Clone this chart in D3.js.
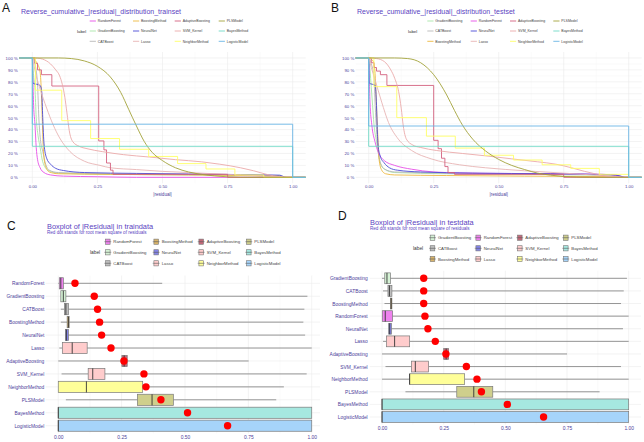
<!DOCTYPE html>
<html>
<head>
<meta charset="utf-8">
<script src="https://cdn.jsdelivr.net/npm/d3@7"></script>
<style>
body { margin: 0; background: #fff; }
svg { display: block; }
text { font-family: 'Liberation Sans', Arial, sans-serif; }
</style>
</head>
<body>
<div id="chart"></div>
<script>
// ---- Data

// Legend / factor orders
var trainModels = ['RandomForest', 'GradientBoosting', 'CATBoost', 'BoostingMethod', 'NeuralNet', 'Lasso',
  'AdaptiveBoosting', 'SVM_Kernel', 'NeighborMethod', 'PLSModel', 'BayesMethod', 'LogisticModel']
var testModels = ['GradientBoosting', 'CATBoost', 'BoostingMethod', 'RandomForest', 'NeuralNet', 'Lasso',
  'AdaptiveBoosting', 'SVM_Kernel', 'NeighborMethod', 'PLSModel', 'BayesMethod', 'LogisticModel']

// Reverse cumulative |residual| curves, trainset: [|residual|, % above]
var A_RandomForest = [[0,100],[0.002,85],[0.005,60],[0.01,45],[0.015,25],[0.02,15],[0.03,8],[0.045,4],[0.07,2],[0.12,1],[0.25,0.5],[0.4,0]]
var A_GradientBoosting = [[0,100],[0.005,85],[0.01,75],[0.015,50],[0.022,35],[0.03,25],[0.04,13],[0.06,6],[0.1,3.5],[0.3,2.5],[0.6,2],[0.95,1],[0.98,0]]
var A_CATBoost = [[0,100],[0.01,95],[0.02,78],[0.025,50],[0.032,30],[0.04,22],[0.05,12],[0.065,6],[0.1,4],[0.3,3],[0.6,2.5],[0.95,1.5],[0.97,0]]
var A_BoostingMethod = [[0,100],[0.01,98],[0.02,95],[0.03,88],[0.035,70],[0.038,50],[0.042,25],[0.05,10],[0.065,4.5],[0.1,3],[0.3,2.5],[0.6,2],[0.95,1],[0.967,0]]
var A_NeuralNet = [[0,100],[0.002,79],[0.03,77],[0.036,72],[0.04,50],[0.045,28],[0.055,16],[0.07,11],[0.09,7.5],[0.12,5.7],[0.2,4],[0.4,3.3],[0.6,2.8],[0.8,2.3],[0.95,1.8],[0.975,0]]
var A_Lasso = [[0,100],[0.005,95],[0.015,85],[0.03,74],[0.055,58],[0.08,44],[0.105,33],[0.145,21.5],[0.2,13.5],[0.26,10],[0.3,8],[0.4,6.5],[0.5,5],[0.6,4],[0.75,2.5],[0.9,1],[1,0]]
var A_AdaptiveBoosting = [[0,100],[0.01,95.5],[0.02,90],[0.035,86],[0.075,76.5],[0.255,30.5],[0.275,23],[0.285,12],[0.3,6],[0.31,2.5],[0.75,0]]
var A_SVM_Kernel = [[0,100],[0.02,99.8],[0.04,99],[0.07,95],[0.09,90],[0.105,85],[0.115,78],[0.125,67],[0.133,54],[0.142,39],[0.155,30],[0.18,26],[0.21,24],[0.27,21.5],[0.35,19],[0.45,17],[0.55,14.8],[0.65,13],[0.72,11],[0.8,8],[0.85,5.5],[0.9,2.5],[0.95,0.5],[0.98,0]]
var A_NeighborMethod = [[0,100],[0.012,73],[0.113,47.5],[0.224,32.5],[0.335,23.5],[0.447,17.5],[0.558,11.5],[0.667,7],[0.778,2],[0.889,0]]
var A_PLSModel = [[0,100],[0.1,100],[0.15,99.5],[0.2,97.5],[0.25,93],[0.3,84],[0.34,71],[0.37,57],[0.4,43],[0.43,30],[0.46,21],[0.5,14],[0.55,8],[0.6,4.5],[0.65,2.5],[0.7,1.2],[0.75,0.4],[0.8,0.1],[0.85,0]]
var A_BayesMethod = [[0,100],[0,26],[1,0]]
var A_LogisticModel = [[0,100],[0,44.5],[1,0]]

// Reverse cumulative |residual| curves, testset
var B_GradientBoosting = [[0,100],[0.005,90],[0.01,75],[0.015,60],[0.02,45],[0.03,30],[0.036,22],[0.045,12],[0.06,7],[0.1,4],[0.3,3],[0.6,2.5],[0.95,1.5],[0.98,0]]
var B_CATBoost = [[0,100],[0.01,95],[0.02,85],[0.025,60],[0.03,40],[0.035,25],[0.045,12],[0.06,7],[0.1,4.5],[0.3,3.5],[0.6,3],[0.95,2],[0.97,0]]
var B_BoostingMethod = [[0,100],[0.01,99],[0.02,96],[0.025,85],[0.03,60],[0.035,35],[0.04,15],[0.05,6],[0.065,3],[0.1,2],[0.3,1.5],[0.6,1],[0.95,0.5],[0.97,0]]
var B_RandomForest = [[0,100],[0.002,85],[0.005,63],[0.012,44],[0.024,30],[0.037,21],[0.06,14],[0.1,10],[0.165,6.8],[0.25,4.5],[0.35,3.7],[0.5,3.3],[0.7,3],[0.9,2.5],[0.96,1.5],[0.98,0]]
var B_NeuralNet = [[0,100],[0.002,79],[0.025,77],[0.03,60],[0.033,40],[0.036,27],[0.044,18],[0.06,12],[0.08,8],[0.11,6],[0.2,4.5],[0.4,3.5],[0.7,3],[0.93,2.3],[0.97,1],[0.985,0]]
var B_Lasso = [[0,100],[0.005,96],[0.01,92],[0.024,82],[0.05,63],[0.076,46],[0.114,32],[0.165,22.5],[0.24,15.5],[0.35,10.5],[0.45,8],[0.6,5.5],[0.75,3.5],[0.9,1.5],[1,0]]
var B_AdaptiveBoosting = [[0,100],[0.01,96],[0.02,92],[0.03,89],[0.045,86],[0.07,77],[0.25,31],[0.267,24],[0.28,16],[0.293,9],[0.305,4],[0.33,2.5],[0.75,0]]
var B_SVM_Kernel = [[0,100],[0.03,99.5],[0.06,97],[0.085,90],[0.1,83],[0.115,72],[0.125,58],[0.133,43],[0.145,32],[0.17,27],[0.2,25],[0.26,22.5],[0.36,20],[0.45,18],[0.55,15.5],[0.65,13],[0.72,11],[0.78,8],[0.83,5],[0.88,2.5],[0.93,0.5],[0.96,0]]
var B_NeighborMethod = [[0,100],[0.02,76],[0.108,50],[0.222,34.5],[0.333,24.5],[0.445,18.5],[0.557,14.5],[0.667,10.5],[0.777,7.5],[0.887,2.5],[1,0]]
var B_PLSModel = [[0,100],[0.1,100],[0.15,99.5],[0.2,96],[0.25,86],[0.3,69],[0.33,56],[0.36,44],[0.4,32],[0.45,22],[0.5,15],[0.55,10],[0.6,6.5],[0.65,3.5],[0.7,1.8],[0.75,0.7],[0.8,0.2],[0.85,0]]
var B_BayesMethod = [[0,100],[0,26],[1,0]]
var B_LogisticModel = [[0,100],[0,43],[1,0]]

// Boxplot statistics, traindata (same order as trainModels)
var trainLo = [0, 0.01, 0.01, 0.01, 0.028, 0.004, 0, 0.013, 0, 0.03, 0, 0]
var trainQ1 = [0.004, 0.01, 0.024, 0.035, 0.028, 0.016, 0.251, 0.118, 0, 0.312, 0, 0]
var trainMed = [0.01, 0.02, 0.03, 0.04, 0.032, 0.055, 0.26, 0.136, 0.111, 0.37, 0, 0]
var trainQ3 = [0.02, 0.03, 0.04, 0.043, 0.04, 0.114, 0.272, 0.184, 0.333, 0.454, 1, 1]
var trainHi = [0.41, 0.983, 0.971, 0.967, 0.974, 1, 0.751, 0.98, 0.89, 0.86, 1, 1]
var trainRmse = [0.066, 0.142, 0.155, 0.163, 0.171, 0.208, 0.259, 0.338, 0.346, 0.405, 0.51, 0.668]

// Boxplot statistics, testdata (same order as testModels)
var testLo = [0, 0.004, 0.01, 0, 0.027, 0.004, 0, 0.014, 0, 0.095, 0, 0]
var testQ1 = [0.011, 0.024, 0.034, 0.001, 0.027, 0.018, 0.25, 0.119, 0.112, 0.303, 0, 0]
var testMed = [0.02, 0.03, 0.037, 0.013, 0.031, 0.051, 0.26, 0.135, 0.112, 0.372, 0, 0]
var testQ3 = [0.034, 0.04, 0.04, 0.043, 0.038, 0.112, 0.27, 0.189, 0.335, 0.449, 1, 1]
var testHi = [0.993, 0.98, 0.969, 1, 0.977, 1, 0.75, 0.969, 1, 0.882, 1, 1]
var testRmse = [0.169, 0.169, 0.169, 0.174, 0.186, 0.216, 0.259, 0.342, 0.385, 0.403, 0.508, 0.655]

var pctTicks = [0, 10, 20, 30, 40, 50, 60, 70, 80, 90, 100]
var resTicks = [0, 0.25, 0.5, 0.75, 1]

// ---- Styles

var lineColor = {
  RandomForest: '#E64FE6', GradientBoosting: '#A8E6A8', CATBoost: '#B8B8B8', BoostingMethod: '#EDB940',
  NeuralNet: '#4B4BD6', Lasso: '#E8B4B4', AdaptiveBoosting: '#D4617F', SVM_Kernel: '#EBA9A9',
  NeighborMethod: '#FFFF66', PLSModel: '#A3A33A', BayesMethod: '#6FD9C6', LogisticModel: '#6BB5E5'
}
var boxFill = {
  RandomForest: '#EE82EE', GradientBoosting: '#D5F2D5', CATBoost: '#BEBEBE', BoostingMethod: '#D9B46A',
  NeuralNet: '#8484E6', Lasso: '#FFCCCC', AdaptiveBoosting: '#C46A7A', SVM_Kernel: '#FFCCCC',
  NeighborMethod: '#FFFF99', PLSModel: '#CFCF8C', BayesMethod: '#A6E8E0', LogisticModel: '#A6D4FA'
}
var stepModels = ['AdaptiveBoosting', 'NeighborMethod', 'BayesMethod', 'LogisticModel']
var titleColor = '#5B3FBF'
var axisColor = '#4B3D9A'
var gridMajor = '#EBEBEB'
var gridMinor = '#F5F5F5'

var svg = d3.select('#chart').append('svg')
  .attr('width', 644)
  .attr('height', 442)

var fmtPct = function(d){ return d + ' %' }
var fmtRes = d3.format('.2f')

// ---- Panels

ecdfPanel({
  tag: 'A', tagX: 2, tagY: 12,
  title: 'Reverse_cumulative_|residual|_distribution_trainset', titleX: 21, titleY: 14,
  left: 19.3, right: 305.7, top: 52, bottom: 183.3,
  legendOrder: trainModels, labelX: 77, legendX: [97.7, 141, 182.7, 226.7], legendY: [21, 31, 41.3],
  curves: {
    RandomForest: A_RandomForest, GradientBoosting: A_GradientBoosting, CATBoost: A_CATBoost,
    BoostingMethod: A_BoostingMethod, NeuralNet: A_NeuralNet, Lasso: A_Lasso,
    AdaptiveBoosting: A_AdaptiveBoosting, SVM_Kernel: A_SVM_Kernel, NeighborMethod: A_NeighborMethod,
    PLSModel: A_PLSModel, BayesMethod: A_BayesMethod, LogisticModel: A_LogisticModel
  }
})

ecdfPanel({
  tag: 'B', tagX: 331, tagY: 12,
  title: 'Reverse_cumulative_|residual|_distribution_testset', titleX: 357, titleY: 14,
  left: 355.7, right: 641.7, top: 52, bottom: 183.3,
  legendOrder: testModels, labelX: 408, legendX: [435.3, 478.7, 518, 561.3], legendY: [21, 31, 41.3],
  curves: {
    RandomForest: B_RandomForest, GradientBoosting: B_GradientBoosting, CATBoost: B_CATBoost,
    BoostingMethod: B_BoostingMethod, NeuralNet: B_NeuralNet, Lasso: B_Lasso,
    AdaptiveBoosting: B_AdaptiveBoosting, SVM_Kernel: B_SVM_Kernel, NeighborMethod: B_NeighborMethod,
    PLSModel: B_PLSModel, BayesMethod: B_BayesMethod, LogisticModel: B_LogisticModel
  }
})

boxPanel({
  tag: 'C', tagX: 7, tagY: 230,
  title: 'Boxplot of |Residual| in traindata', titleX: 47, titleY: 229,
  left: 45.6, right: 324.4, clipRight: 320, firstY: 283.3, lastY: 425.7, tickY: 438.3, labelRight: 44.3,
  models: trainModels, lo: trainLo, q1: trainQ1, med: trainMed, q3: trainQ3, hi: trainHi, rmse: trainRmse,
  labelX: 90, legendX: [113.3, 161.7, 206.7, 254.3], legendY: [241.7, 252.3, 263.3]
})

boxPanel({
  tag: 'D', tagX: 338, tagY: 220,
  title: 'Boxplot of |Residual| in testdata', titleX: 370, titleY: 225,
  left: 369.7, right: 641, clipRight: 641, firstY: 278.3, lastY: 417, tickY: 429.5, labelRight: 367.7,
  models: testModels, lo: testLo, q1: testQ1, med: testMed, q3: testQ3, hi: testHi, rmse: testRmse,
  labelX: 413, legendX: [438, 483.7, 525.3, 571.3], legendY: [237.7, 248.3, 259]
})

// ---
// Functions

function ecdfPanel(s) {
  var x = d3.scaleLinear().domain([-0.05, 1.05]).range([s.left, s.right])
  var y = d3.scaleLinear().domain([-5, 105]).range([s.bottom, s.top])
  var g = svg.append('g')

  // minor + major grid
  d3.range(5, 100, 10).forEach(function(v){
    g.append('line').attr('x1', s.left).attr('x2', s.right).attr('y1', y(v)).attr('y2', y(v))
      .attr('stroke', gridMinor).attr('stroke-width', 0.5)
  })
  d3.range(0.125, 1, 0.25).forEach(function(v){
    g.append('line').attr('x1', x(v)).attr('x2', x(v)).attr('y1', s.top).attr('y2', s.bottom)
      .attr('stroke', gridMinor).attr('stroke-width', 0.5)
  })
  pctTicks.forEach(function(v){
    g.append('line').attr('x1', s.left).attr('x2', s.right).attr('y1', y(v)).attr('y2', y(v))
      .attr('stroke', gridMajor).attr('stroke-width', 0.6)
  })
  resTicks.forEach(function(v){
    g.append('line').attr('x1', x(v)).attr('x2', x(v)).attr('y1', s.top).attr('y2', s.bottom)
      .attr('stroke', gridMajor).attr('stroke-width', 0.6)
  })

  // axes (labels only, theme_minimal style)
  var ya = g.append('g').attr('transform', 'translate(' + (s.left - 1.5) + ',0)')
    .call(d3.axisLeft(y).tickValues(pctTicks).tickFormat(fmtPct).tickSize(0).tickPadding(0))
  var xa = g.append('g').attr('transform', 'translate(0,' + (s.bottom + 1) + ')')
    .call(d3.axisBottom(x).tickValues(resTicks).tickFormat(fmtRes).tickSize(0).tickPadding(0.5))
  ;[ya, xa].forEach(function(a){
    a.select('.domain').remove()
    a.selectAll('text').attr('fill', axisColor).attr('font-size', 4.3)
      .attr('font-family', "'Liberation Sans', Arial, sans-serif")
  })
  g.append('text').attr('x', (s.left + s.right) / 2).attr('y', s.bottom + 12.5)
    .attr('text-anchor', 'middle').attr('font-size', 4.6).attr('fill', axisColor).text('|residual|')

  // curves
  s.legendOrder.forEach(function(name){
    var pts = [[-0.05, 100]].concat(s.curves[name]).concat([[1.05, 0]])
    var isStep = stepModels.indexOf(name) >= 0
    var line = d3.line()
      .x(function(d){ return x(d[0]) })
      .y(function(d){ return y(d[1]) })
      .curve(isStep ? d3.curveStepAfter : d3.curveMonotoneX)
    g.append('path').attr('d', line(pts)).attr('fill', 'none')
      .attr('stroke', lineColor[name]).attr('stroke-width', 0.9)
  })

  // title, tag
  svg.append('text').attr('x', s.tagX).attr('y', s.tagY).text(s.tag)
    .attr('font-family', "'Liberation Serif', 'Times New Roman', serif").attr('font-size', 12).attr('fill', '#111')
  svg.append('text').attr('x', s.titleX).attr('y', s.titleY).text(s.title)
    .attr('font-size', 7).attr('fill', titleColor)

  // legend
  svg.append('text').attr('x', s.labelX).attr('y', s.legendY[1]).attr('dy', '0.35em')
    .attr('font-size', 4.4).attr('fill', '#333').text('label')
  s.legendOrder.forEach(function(name, i){
    var col = Math.floor(i / 3), row = i % 3
    var tx = s.legendX[col], ty = s.legendY[row]
    svg.append('line').attr('x1', tx - 8).attr('x2', tx - 1.8).attr('y1', ty).attr('y2', ty)
      .attr('stroke', lineColor[name]).attr('stroke-width', 0.9)
    svg.append('text').attr('x', tx).attr('y', ty).attr('dy', '0.35em')
      .attr('font-size', 3.5).attr('fill', '#444').text(name)
  })
}

function boxPanel(s) {
  var x = d3.scaleLinear().domain([-0.05, 1.05]).range([s.left, s.right])
  var y = d3.scalePoint().domain(s.models).range([s.firstY, s.lastY])
  var step = (s.lastY - s.firstY) / (s.models.length - 1)
  var bh = step * 0.86
  var top = s.firstY - step * 0.6, bottom = s.lastY + step * 0.6
  var g = svg.append('g')

  // grid
  d3.range(0.125, 1, 0.25).forEach(function(v){
    g.append('line').attr('x1', x(v)).attr('x2', x(v)).attr('y1', top).attr('y2', bottom)
      .attr('stroke', gridMinor).attr('stroke-width', 0.5)
  })
  resTicks.forEach(function(v){
    g.append('line').attr('x1', x(v)).attr('x2', x(v)).attr('y1', top).attr('y2', bottom)
      .attr('stroke', gridMajor).attr('stroke-width', 0.6)
  })
  s.models.forEach(function(m){
    g.append('line').attr('x1', s.left).attr('x2', s.clipRight).attr('y1', y(m)).attr('y2', y(m))
      .attr('stroke', gridMajor).attr('stroke-width', 0.6)
  })

  // axes
  var xa = g.append('g').attr('transform', 'translate(0,' + (s.tickY - 2.5) + ')')
    .call(d3.axisBottom(x).tickValues(resTicks).tickFormat(fmtRes).tickSize(0).tickPadding(0))
  var ya = g.append('g').attr('transform', 'translate(' + s.labelRight + ',0)')
    .call(d3.axisLeft(y).tickSize(0).tickPadding(0))
  ;[ya, xa].forEach(function(a){
    a.select('.domain').remove()
    a.selectAll('text').attr('fill', axisColor).attr('font-size', 4.9)
      .attr('font-family', "'Liberation Sans', Arial, sans-serif")
  })

  // boxes
  s.models.forEach(function(m, i){
    var cy = y(m)
    if (s.lo[i] < s.q1[i])
      g.append('line').attr('x1', x(s.lo[i])).attr('x2', x(s.q1[i])).attr('y1', cy).attr('y2', cy)
        .attr('stroke', '#8A8A8A').attr('stroke-width', 0.9)
    if (s.hi[i] > s.q3[i])
      g.append('line').attr('x1', x(s.q3[i])).attr('x2', x(s.hi[i])).attr('y1', cy).attr('y2', cy)
        .attr('stroke', '#8A8A8A').attr('stroke-width', 0.9)
    g.append('rect').attr('x', x(s.q1[i])).attr('y', cy - bh / 2)
      .attr('width', Math.max(x(s.q3[i]) - x(s.q1[i]), 0.5)).attr('height', bh)
      .attr('fill', boxFill[m]).attr('stroke', '#7A7A7A').attr('stroke-width', 0.7)
    g.append('line').attr('x1', x(s.med[i])).attr('x2', x(s.med[i])).attr('y1', cy - bh / 2).attr('y2', cy + bh / 2)
      .attr('stroke', '#333').attr('stroke-width', 0.9)
  })
  s.models.forEach(function(m, i){
    g.append('circle').attr('cx', x(s.rmse[i])).attr('cy', y(m)).attr('r', 3.7).attr('fill', '#FF0000')
  })

  // title, tag
  svg.append('text').attr('x', s.tagX).attr('y', s.tagY).text(s.tag)
    .attr('font-family', "'Liberation Serif', 'Times New Roman', serif").attr('font-size', 12).attr('fill', '#111')
  svg.append('text').attr('x', s.titleX).attr('y', s.titleY).text(s.title)
    .attr('font-size', 7.4).attr('fill', titleColor)
  svg.append('text').attr('x', s.titleX).attr('y', s.titleY + 4.8).text('Red dot stands for root mean square of residuals')
    .attr('font-size', 4.6).attr('fill', titleColor)

  // legend
  svg.append('text').attr('x', s.labelX).attr('y', s.legendY[1]).attr('dy', '0.35em')
    .attr('font-size', 4.8).attr('fill', '#333').text('label')
  s.models.forEach(function(name, i){
    var col = Math.floor(i / 3), row = i % 3
    var tx = s.legendX[col], ty = s.legendY[row]
    var kx = tx - 9
    svg.append('line').attr('x1', kx).attr('x2', kx + 7).attr('y1', ty).attr('y2', ty)
      .attr('stroke', '#777').attr('stroke-width', 0.6)
    svg.append('rect').attr('x', kx + 1.2).attr('y', ty - 2.6).attr('width', 4.6).attr('height', 5.2)
      .attr('fill', boxFill[name]).attr('stroke', '#777').attr('stroke-width', 0.6)
    svg.append('line').attr('x1', kx + 1.2).attr('x2', kx + 5.8).attr('y1', ty).attr('y2', ty)
      .attr('stroke', '#555').attr('stroke-width', 0.6)
    svg.append('text').attr('x', tx).attr('y', ty).attr('dy', '0.35em')
      .attr('font-size', 4.3).attr('fill', '#444').text(name)
  })
}
</script>
</body>
</html>
